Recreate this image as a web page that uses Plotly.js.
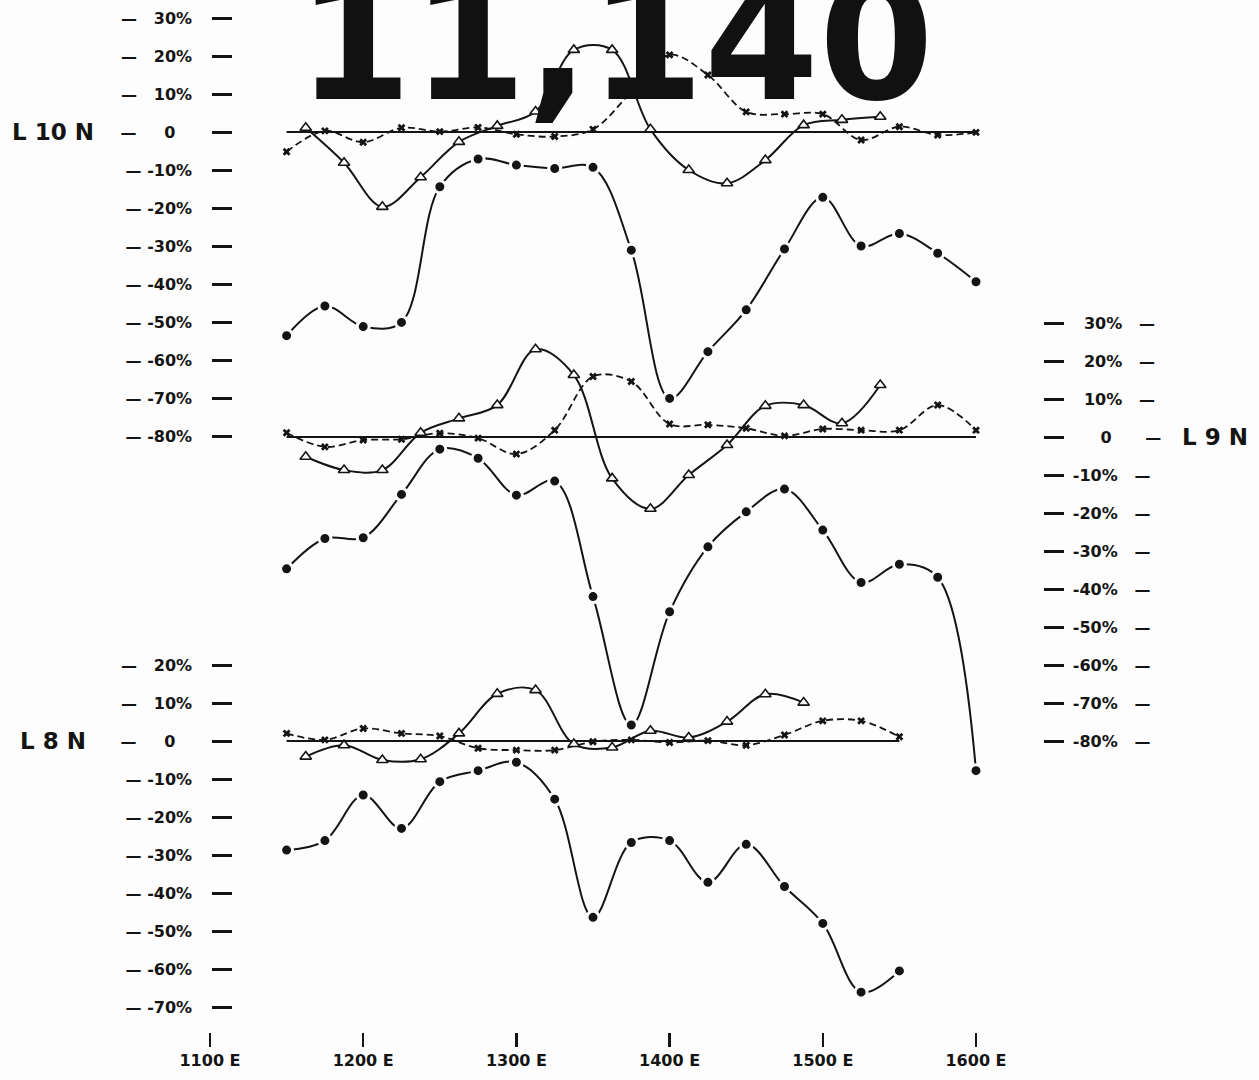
<!DOCTYPE html>
<html>
<head>
<meta charset="utf-8">
<script src="https://cdn.plot.ly/plotly-3.0.1.min.js"></script>
<style>html,body{margin:0;padding:0;background:#fdfdfd;}#chart{width:1259px;height:1080px;}</style>
</head>
<body>
<div id="chart"></div>
<script>
// ---------------- DATA ----------------
// station positions (E)
const stationsFull = [1150,1175,1200,1225,1250,1275,1300,1325,1350,1375,1400,1425,1450,1475,1500,1525,1550,1575,1600];
const stationsL8 = [1150,1175,1200,1225,1250,1275,1300,1325,1350,1375,1400,1425,1450,1475,1500,1525,1550];
const midFull = [1162.5,1187.5,1212.5,1237.5,1262.5,1287.5,1312.5,1337.5,1362.5,1387.5,1412.5,1437.5,1462.5,1487.5,1512.5,1537.5];
const midL8 = [1162.5,1187.5,1212.5,1237.5,1262.5,1287.5,1312.5,1337.5,1362.5,1387.5,1412.5,1437.5,1462.5,1487.5];

// L 10 N (percent)
const l10Dots = [-53.6,-45.8,-51.2,-50.1,-14.4,-7.1,-8.7,-9.6,-9.3,-31.1,-70.1,-57.8,-46.8,-30.8,-17.2,-30.0,-26.7,-31.9,-39.4];
const l10Tri  = [1.1,-8.1,-19.7,-11.9,-2.6,1.6,5.4,21.6,21.6,0.7,-10.0,-13.5,-7.4,1.8,3.2,4.0];
const l10X    = [-5.2,0.3,-2.7,1.1,0.1,1.2,-0.6,-1.2,0.7,10.5,20.3,15.0,5.3,4.7,4.7,-2.1,1.4,-0.8,-0.1];

// L 9 N (percent)
const l9Dots = [-34.7,-26.7,-26.5,-15.1,-3.2,-5.6,-15.3,-11.6,-42.0,-75.8,-46.0,-28.9,-19.7,-13.7,-24.5,-38.3,-33.5,-36.9,-87.8];
const l9Tri  = [-5.2,-8.7,-8.7,1.1,4.9,8.4,23.1,16.3,-10.9,-18.9,-10.0,-2.1,8.2,8.4,3.6,13.7];
const l9X    = [1.1,-2.6,-0.8,-0.6,1.0,-0.3,-4.5,1.8,15.9,14.6,3.4,3.2,2.3,0.3,2.1,1.8,1.8,8.4,1.8];

// L 8 N (percent)
const l8Dots = [-28.7,-26.2,-14.2,-23.0,-10.7,-7.8,-5.6,-15.3,-46.4,-26.7,-26.2,-37.2,-27.2,-38.3,-48.0,-66.1,-60.5];
const l8Tri  = [-4.1,-1.1,-5.0,-4.8,2.0,12.4,13.4,-0.8,-1.7,2.7,0.9,5.1,12.3,10.1];
const l8X    = [2.0,0.3,3.3,2.0,1.3,-1.9,-2.4,-2.4,-0.2,0.3,-0.4,0.1,-1.1,1.6,5.3,5.3,1.1];

// tick labels
const xTickVals = [1100,1200,1300,1400,1500,1600];
const xTickText = ["1100 E","1200 E","1300 E","1400 E","1500 E","1600 E"];
const l10Ticks = [30,20,10,0,-10,-20,-30,-40,-50,-60,-70,-80];
const l9Ticks  = [30,20,10,0,-10,-20,-30,-40,-50,-60,-70,-80];
const l8Ticks  = [20,10,0,-10,-20,-30,-40,-50,-60,-70];
const profileNames = ["L 10 N","L 9 N","L 8 N"];
const stampText = "11,140";

// ---------------- LAYOUT HELPERS ----------------
const W = 1259, H = 1080, MB = 48, PH = H - MB;
const X0PX = 210, XPX = 1.532;           // pixel of 1100 E, pixels per unit
const YPX = 3.8;                           // pixels per percent
const ZERO_PX = [132, 437, 741];           // baseline pixel rows
const INK = '#141414';
const NB = '\u00a0';

function yRange(z){ return [(z - PH)/YPX, z/YPX]; }
function num(v){ return v === 0 ? '0' : v + '%'; }
function leftLabel(v){
  const pad = v === 0 ? NB.repeat(5) : (v > 0 ? NB.repeat(3) : NB);
  const tail = v === 0 ? NB.repeat(6) : NB.repeat(3);
  return '\u2014' + pad + num(v) + tail;
}
function rightLabel(v){
  const pad = v === 0 ? NB.repeat(6) : (v > 0 ? NB.repeat(3) : NB.repeat(1));
  const tail = v === 0 ? NB.repeat(6) : NB.repeat(3);
  return pad + num(v) + tail + '\u2014';
}

function series(x, y, ax, kind){
  const t = {x: x, y: y, yaxis: ax, type: 'scatter', mode: 'lines+markers',
             hoverinfo: 'skip', line: {color: INK, width: 2, shape: 'spline', smoothing: 1}};
  if (kind === 'dot') {
    t.marker = {symbol: 'circle', size: 12, color: INK, line: {color: '#fdfdfd', width: 3}};
  } else if (kind === 'tri') {
    t.marker = {symbol: 'triangle-up', size: 10, color: '#fdfdfd', line: {color: INK, width: 1.6}};
  } else {
    t.line.dash = '7px,4px';
    t.line.width = 1.8;
    t.marker = {symbol: 'x', size: 7, color: INK, line: {width: 0}};
  }
  return t;
}
function baseline(st, ax){
  return {x: [st[0], st[st.length-1]], y: [0, 0], yaxis: ax, type: 'scatter', mode: 'lines',
          hoverinfo: 'skip', line: {color: INK, width: 2}};
}

const traces = [
  baseline(stationsFull, 'y'),
  series(stationsFull, l10X, 'y', 'x'),
  series(midFull, l10Tri, 'y', 'tri'),
  series(stationsFull, l10Dots, 'y', 'dot'),
  baseline(stationsFull, 'y2'),
  series(stationsFull, l9X, 'y2', 'x'),
  series(midFull, l9Tri, 'y2', 'tri'),
  series(stationsFull, l9Dots, 'y2', 'dot'),
  baseline(stationsL8, 'y3'),
  series(stationsL8, l8X, 'y3', 'x'),
  series(midL8, l8Tri, 'y3', 'tri'),
  series(stationsL8, l8Dots, 'y3', 'dot')
];

const tickFont = {family: 'DejaVu Sans, sans-serif', size: 16, color: INK, weight: 'bold'};
function yAxis(z, ticks, side, posPx, labeler){
  return {range: yRange(z), anchor: 'free', position: posPx / W, side: side,
          tickmode: 'array', tickvals: ticks, ticktext: ticks.map(labeler),
          ticks: 'outside', ticklen: 20, tickwidth: 3, tickcolor: INK,
          showgrid: false, zeroline: false, showline: false, fixedrange: true,
          tickfont: tickFont};
}

const layout = {
  width: W, height: H,
  margin: {l: 0, r: 0, t: 0, b: MB},
  paper_bgcolor: '#fdfdfd', plot_bgcolor: '#fdfdfd',
  showlegend: false,
  xaxis: {range: [1100 - X0PX / XPX, 1100 + (W - X0PX) / XPX],
          tickmode: 'array', tickvals: xTickVals, ticktext: xTickText,
          ticks: 'outside', ticklen: 14, tickwidth: 2.5, tickcolor: INK,
          showgrid: false, zeroline: false, showline: false, fixedrange: true,
          tickfont: tickFont},
  yaxis:  yAxis(ZERO_PX[0], l10Ticks, 'left', 232, leftLabel),
  yaxis2: Object.assign(yAxis(ZERO_PX[1], l9Ticks, 'right', 1043, rightLabel), {overlaying: 'y'}),
  yaxis3: Object.assign(yAxis(ZERO_PX[2], l8Ticks, 'left', 232, leftLabel), {overlaying: 'y'}),
  annotations: [
    {text: stampText, xref: 'paper', yref: 'paper', x: 615 / W, y: 1 - 140 / PH,
     xanchor: 'center', yanchor: 'bottom', showarrow: false,
     font: {family: 'DejaVu Sans, sans-serif', size: 165, color: '#111', weight: 'bold'}},
    {text: profileNames[0], xref: 'paper', yref: 'y', x: 10 / W, y: 0, xanchor: 'left', yanchor: 'middle',
     showarrow: false, font: {family: 'DejaVu Sans, sans-serif', size: 23, color: INK, weight: 'bold'}},
    {text: profileNames[1], xref: 'paper', yref: 'y2', x: 1180 / W, y: 0, xanchor: 'left', yanchor: 'middle',
     showarrow: false, font: {family: 'DejaVu Sans, sans-serif', size: 23, color: INK, weight: 'bold'}},
    {text: profileNames[2], xref: 'paper', yref: 'y3', x: 18 / W, y: 0, xanchor: 'left', yanchor: 'middle',
     showarrow: false, font: {family: 'DejaVu Sans, sans-serif', size: 23, color: INK, weight: 'bold'}}
  ]
};

Plotly.newPlot('chart', traces, layout, {staticPlot: true, displayModeBar: false});
</script>
</body>
</html>
